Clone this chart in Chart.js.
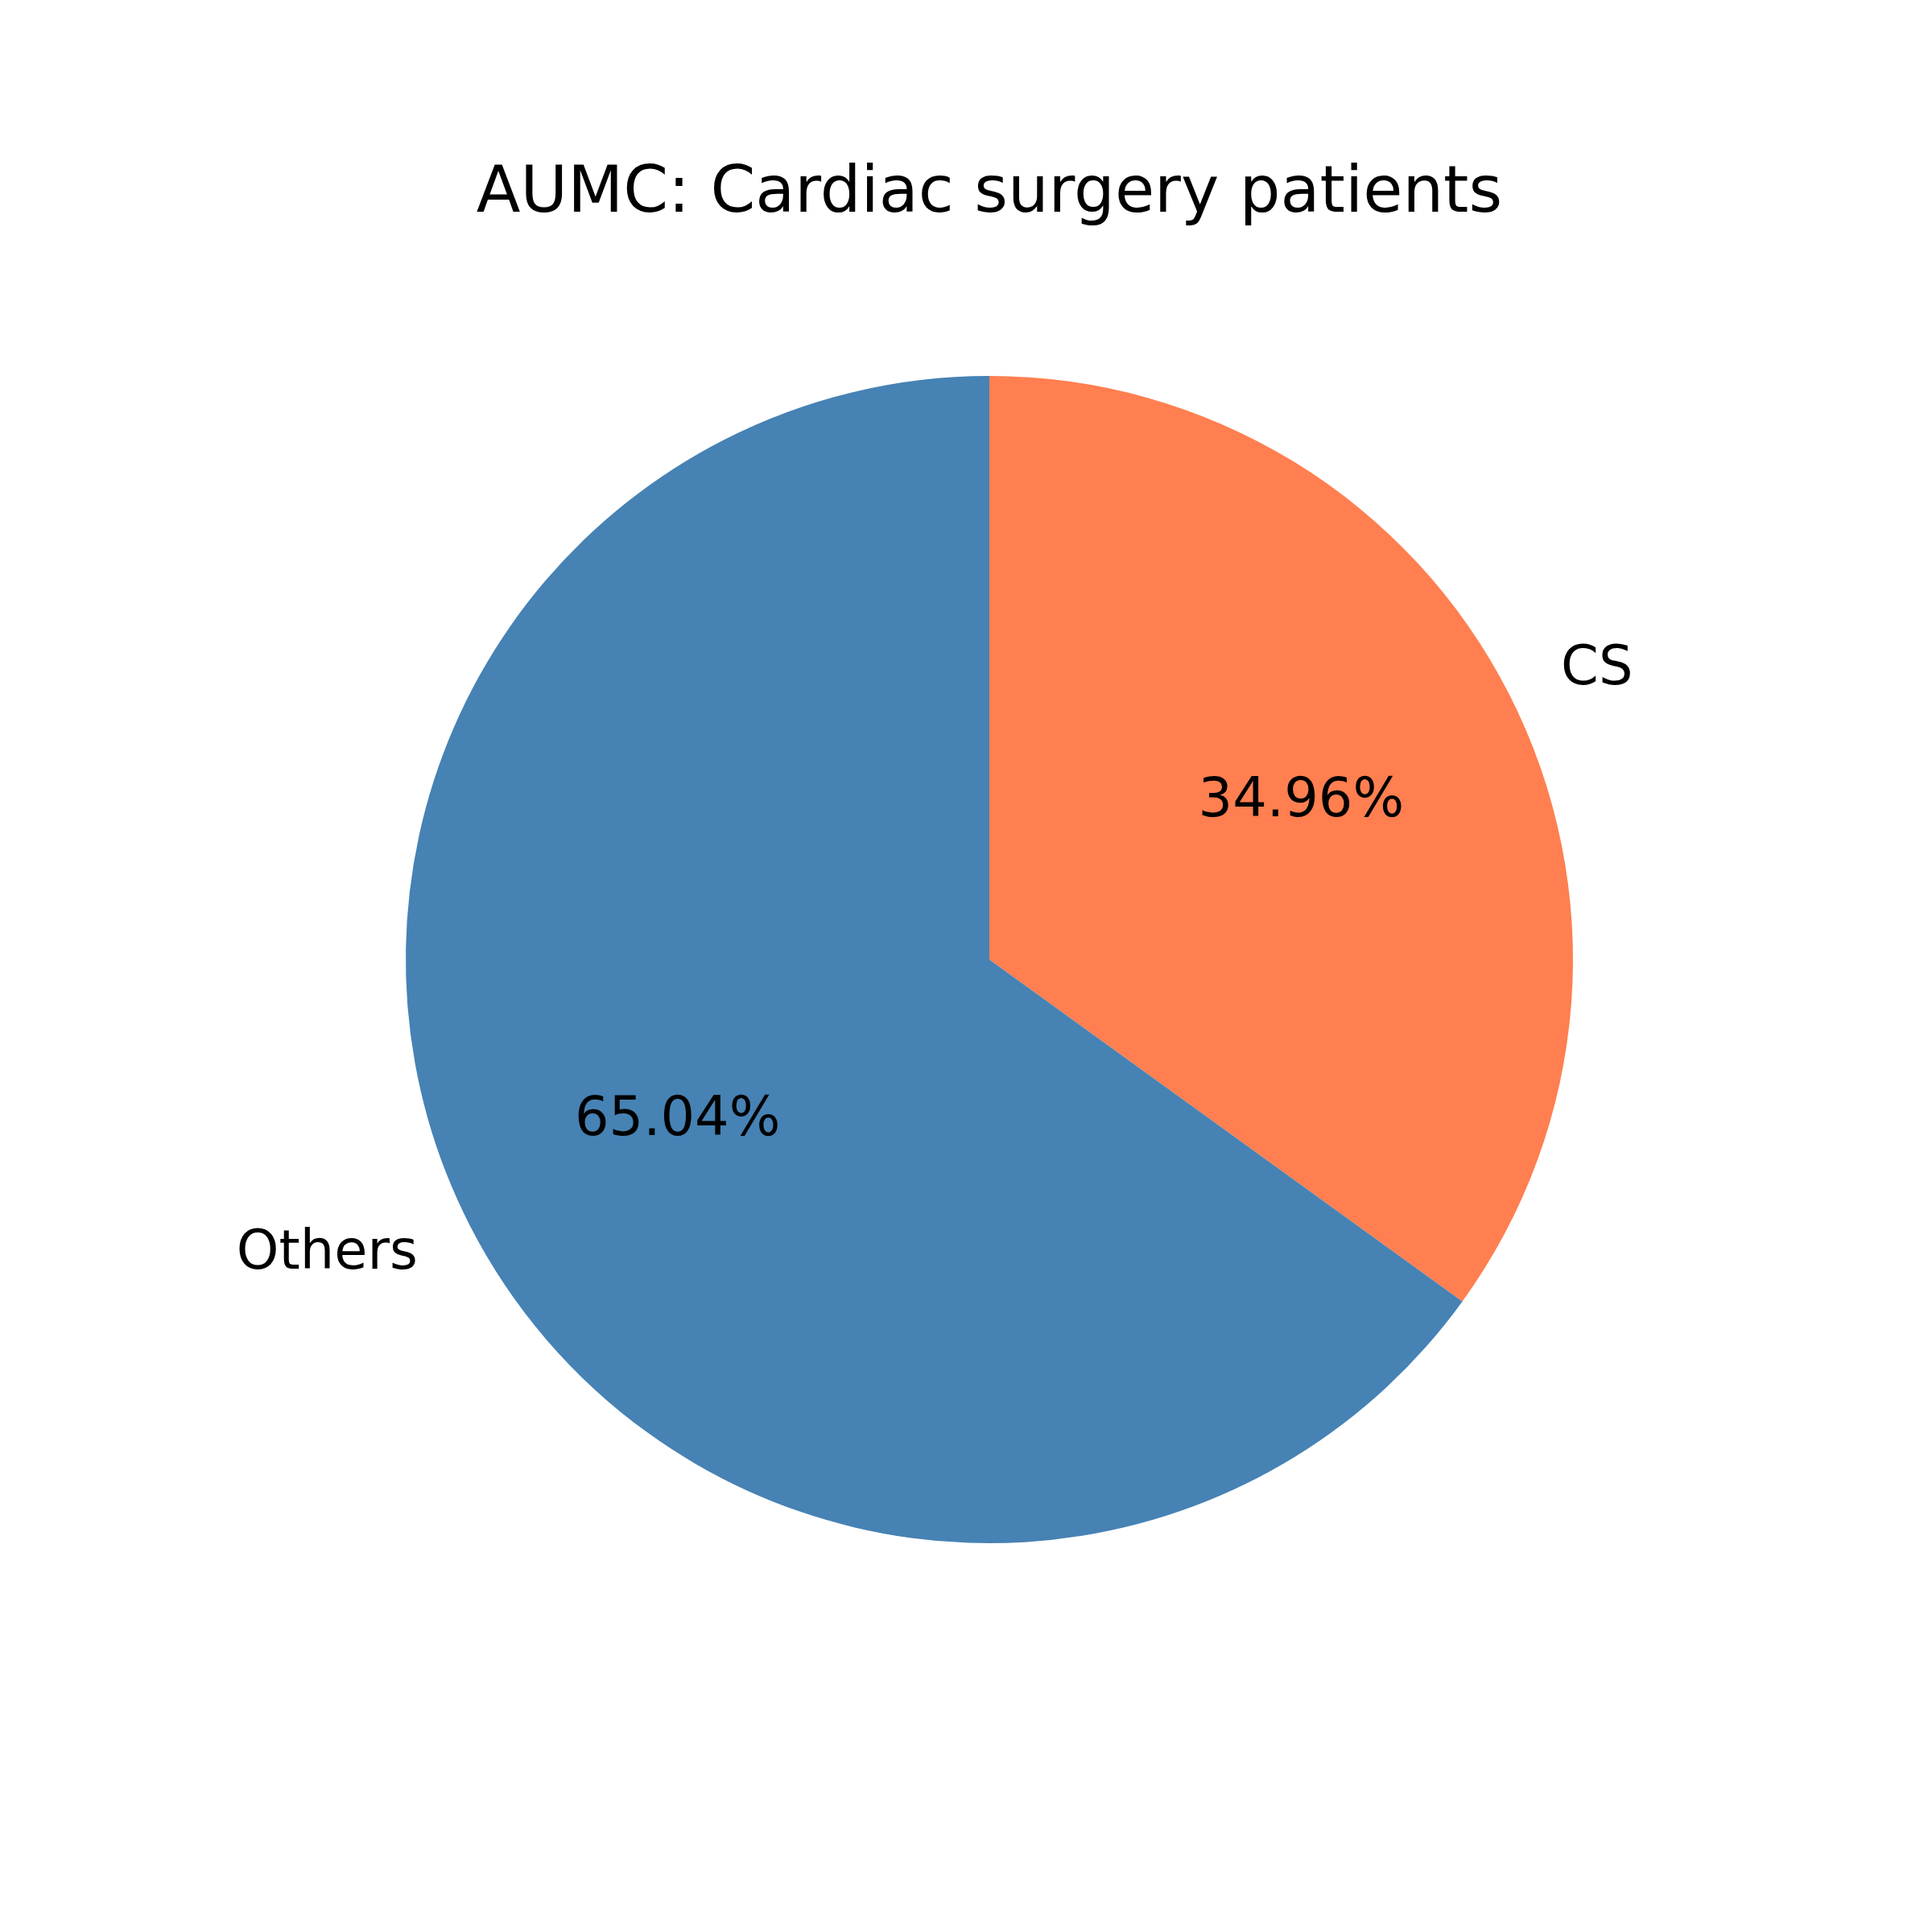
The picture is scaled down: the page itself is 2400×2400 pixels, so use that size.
<!DOCTYPE html>
<html>
<head>
<meta charset="utf-8">
<script src="https://cdn.jsdelivr.net/npm/chart.js@4/dist/chart.umd.min.js"></script>
<style>
html, body { margin: 0; padding: 0; background: #ffffff; }
canvas { display: block; }
</style>
</head>
<body>
<canvas id="c" width="2400" height="2400"></canvas>
<script>
const categories = ['CS', 'Others'];
const values = [34.96, 65.04];
const colors = ['#FF7F50', '#4682B4'];
const titleText = 'AUMC: Cardiac surgery patients';

const labelPlugin = {
  id: 'pieLabels',
  afterDraw(chart) {
    const ctx = chart.ctx;
    const meta = chart.getDatasetMeta(0);
    const total = values.reduce((a, b) => a + b, 0);
    ctx.save();
    ctx.fillStyle = '#000000';
    // title
    ctx.font = '80px "DejaVu Sans"';
    ctx.textAlign = 'center';
    ctx.textBaseline = 'alphabetic';
    ctx.fillText(titleText, chart.chartArea.left + (chart.chartArea.right - chart.chartArea.left) / 2, 263);
    meta.data.forEach((arc, i) => {
      const p = arc.getProps(['x', 'y', 'startAngle', 'endAngle', 'outerRadius'], true);
      const mid = (p.startAngle + p.endAngle) / 2;
      const cx = Math.cos(mid), cy = Math.sin(mid);
      ctx.font = '67px "DejaVu Sans"';
      // outer label
      const lx = p.x + cx * p.outerRadius * 1.1;
      const ly = p.y + cy * p.outerRadius * 1.1;
      ctx.textAlign = cx >= 0 ? 'left' : 'right';
      ctx.fillText(categories[i], lx, ly + 21);
      // percentage
      const px = p.x + cx * p.outerRadius * 0.6;
      const py = p.y + cy * p.outerRadius * 0.6;
      ctx.textAlign = 'center';
      const pct = (values[i] / total * 100).toFixed(2) + '%';
      ctx.fillText(pct, px, py + 20);
    });
    ctx.restore();
  }
};

new Chart(document.getElementById('c'), {
  type: 'pie',
  data: {
    labels: categories,
    datasets: [{
      data: values,
      backgroundColor: colors,
      borderWidth: 0,
      hoverOffset: 0
    }]
  },
  options: {
    responsive: false,
    animation: false,
    rotation: 0,
    layout: { padding: { left: 504, right: 446, top: 467, bottom: 483 } },
    plugins: {
      legend: { display: false },
      title: { display: false },
      tooltip: { enabled: false }
    }
  },
  plugins: [labelPlugin]
});
</script>
</body>
</html>
